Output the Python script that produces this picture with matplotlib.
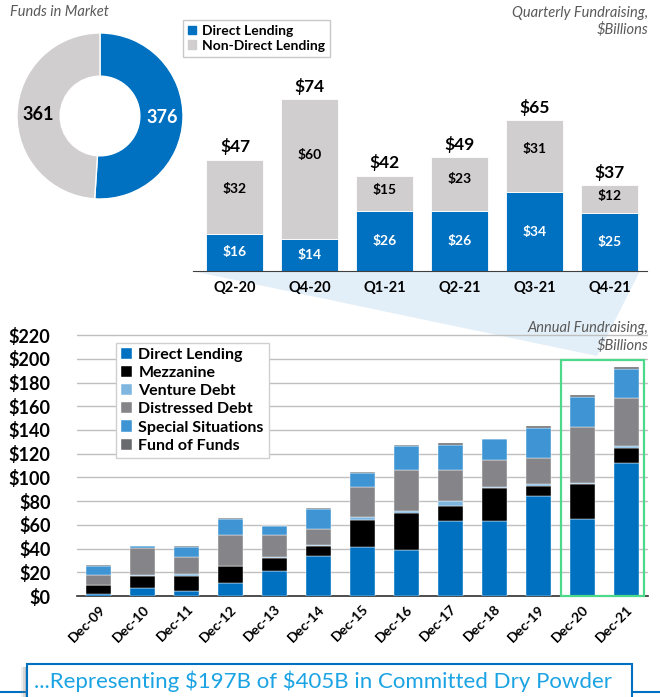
import numpy as np
import matplotlib.pyplot as plt
from matplotlib.patches import Patch, Rectangle, Polygon

# ---------- data ----------
donut_labels = ["Direct Lending", "Non-Direct Lending"]
donut_values = [376, 361]

quarters = ["Q2-20", "Q4-20", "Q1-21", "Q2-21", "Q3-21", "Q4-21"]
q_direct = [16, 14, 26, 26, 34, 25]
q_non_direct = [32, 60, 15, 23, 31, 12]
q_totals = [47, 74, 42, 49, 65, 37]

years = ["Dec-09", "Dec-10", "Dec-11", "Dec-12", "Dec-13", "Dec-14", "Dec-15",
         "Dec-16", "Dec-17", "Dec-18", "Dec-19", "Dec-20", "Dec-21"]
direct_lending = [2, 6.7, 4, 11, 21, 33.4, 41.6, 38.8, 63.2, 62.9, 84, 65.2, 112.4]
mezzanine = [7, 10.4, 12.7, 14, 11, 8.7, 22.2, 31.4, 12.9, 28.1, 8.4, 28.9, 12.6]
venture_debt = [0.5, 0.6, 1.7, 0.6, 0.9, 0.6, 2.8, 1.4, 3.7, 0.9, 2.3, 1.1, 1.4]
distressed = [8, 23, 14.8, 25.5, 18.2, 13.8, 25.5, 34.3, 26.7, 22.4, 21.6, 46.9, 40.7]
special_sit = [8, 1.2, 8.2, 13.8, 7.6, 17.1, 11.6, 20.2, 21, 17.7, 25, 25.9, 23.9]
fund_of_funds = [0.5, 0.3, 0.6, 0.5, 0.6, 0.8, 0.8, 1.4, 1.7, 0.6, 1.7, 1.1, 2.5]

# ---------- style ----------
BLUE = "#0070C0"
LGRAY = "#D0CECE"
FONT = ["Lato", "DejaVu Sans"]
plt.rcParams['font.family'] = FONT

W, H = 660, 697
fig = plt.figure(figsize=(W / 100, H / 100), dpi=100)


def fx(px):
    return px / W


def fy(py):
    return 1 - py / H


# ---------- donut ----------
ax_d = fig.add_axes([fx(17), fy(199), fx(166), 166 / H])
wedges, _ = ax_d.pie(donut_values, colors=[BLUE, LGRAY], startangle=90,
                     counterclock=False, radius=1.0,
                     wedgeprops=dict(width=0.52, edgecolor="white", linewidth=1))
ax_d.set_xlim(-1, 1)
ax_d.set_ylim(-1, 1)
for w, v, c in zip(wedges, donut_values, ["white", "black"]):
    ang = np.deg2rad((w.theta1 + w.theta2) / 2)
    ax_d.text(0.75 * np.cos(ang), 0.75 * np.sin(ang), str(v), ha="center",
              va="center", color=c, fontsize=13, fontweight="bold")

fig.text(fx(10), fy(12), "Funds in Market", style="italic", color="#595959",
         fontsize=10.5, ha="left", va="center")
fig.text(fx(648), fy(13), "Quarterly Fundraising,", style="italic",
         color="#595959", fontsize=10.5, ha="right", va="center")
fig.text(fx(648), fy(30), "$Billions", style="italic", color="#595959",
         fontsize=10.5, ha="right", va="center")

# ---------- quarterly bars ----------
ax_q = fig.add_axes([fx(193), fy(271), fx(454), 80 * 2.32 / H])
xq = np.arange(len(quarters))
ax_q.bar(xq, q_direct, width=0.76, color=BLUE, edgecolor="white", linewidth=0.6)
ax_q.bar(xq, q_non_direct, width=0.76, bottom=q_direct, color=LGRAY,
         edgecolor="white", linewidth=0.6)
for i in range(len(quarters)):
    ax_q.text(i, q_direct[i] / 2, f"${q_direct[i]}", ha="center", va="center",
              color="white", fontsize=10, fontweight="bold")
    ax_q.text(i, q_direct[i] + q_non_direct[i] * 0.6, f"${q_non_direct[i]}",
              ha="center", va="center", color="black", fontsize=10,
              fontweight="bold")
    ax_q.text(i, q_direct[i] + q_non_direct[i] + 2, f"${q_totals[i]}",
              ha="center", va="bottom", color="black", fontsize=12.5,
              fontweight="bold")
ax_q.set_xlim(-0.56, 5.5)
ax_q.set_ylim(0, 80)
ax_q.set_xticks(xq)
ax_q.set_xticklabels(quarters, fontsize=10.5, fontweight="bold")
ax_q.tick_params(axis="x", length=0, pad=7)
ax_q.set_yticks([])
for s in ["top", "right", "left"]:
    ax_q.spines[s].set_visible(False)
ax_q.spines["bottom"].set_color("#404040")
ax_q.patch.set_alpha(0)
ax_q.legend(handles=[Patch(color=BLUE, label="Direct Lending"),
                     Patch(color=LGRAY, label="Non-Direct Lending")],
            loc="upper left", bbox_to_anchor=(fx(183), fy(20)),
            bbox_transform=fig.transFigure, borderaxespad=0,
            prop=dict(weight="bold", size=10), handlelength=0.6,
            handleheight=0.6, handletextpad=0.4, labelspacing=0.2,
            borderpad=0.35, fancybox=False, framealpha=1, edgecolor="#C8C8C8")

# ---------- connector triangle ----------
tri = Polygon([(fx(192), fy(271)), (fx(640), fy(271)), (fx(597), fy(356))],
              closed=True, transform=fig.transFigure, facecolor="#DDEBF7",
              edgecolor="none", alpha=0.8, zorder=-1)
fig.patches.append(tri)

# ---------- annual bars ----------
ax_a = fig.add_axes([fx(77), fy(596), fx(571), 221 * 1.186 / H])
xa = np.arange(len(years))
series = [
    ("Direct Lending", direct_lending, BLUE),
    ("Mezzanine", mezzanine, "#000000"),
    ("Venture Debt", venture_debt, "#7FB6E0"),
    ("Distressed Debt", distressed, "#858589"),
    ("Special Situations", special_sit, "#3F95D3"),
    ("Fund of Funds", fund_of_funds, "#6A6B6E"),
]
bottom = np.zeros(len(years))
for name, vals, col in series:
    ax_a.bar(xa, vals, width=0.57, bottom=bottom, color=col, label=name,
             edgecolor="white", linewidth=0.3, zorder=3)
    bottom += np.array(vals)

ax_a.set_xlim(-0.5, 12.5)
ax_a.set_ylim(0, 221)
ax_a.set_yticks(np.arange(0, 221, 20))
ax_a.set_yticklabels([f"${v}" for v in range(0, 221, 20)], fontsize=13,
                     fontweight="bold")
ax_a.yaxis.grid(True, color="#BFBFBF", linewidth=1, zorder=0)
ax_a.tick_params(axis="y", length=0, pad=19)
ax_a.set_xticks(xa)
ax_a.set_xticklabels(years, rotation=45, ha="right", rotation_mode="anchor",
                     fontsize=10, fontweight="bold")
ax_a.tick_params(axis="x", length=0, pad=5)
for s in ["top", "right", "left"]:
    ax_a.spines[s].set_visible(False)
ax_a.spines["bottom"].set_color("#303030")
ax_a.spines["bottom"].set_linewidth(1.2)
ax_a.patch.set_alpha(0)
ax_a.add_patch(Rectangle((10.52, 0), 1.9, 199, fill=False,
                         edgecolor="#4CD98A", linewidth=1.6, zorder=4,
                         clip_on=False))
leg = ax_a.legend(loc="upper left", bbox_to_anchor=(fx(116), fy(343)),
                  bbox_transform=fig.transFigure, borderaxespad=0,
                  prop=dict(weight="bold", size=11.5), handlelength=0.7,
                  handleheight=0.7, handletextpad=0.4, labelspacing=0.25,
                  borderpad=0.3, fancybox=False, framealpha=1,
                  edgecolor="#D0D0D0")
leg.set_zorder(5)

fig.text(fx(648), fy(328), "Annual Fundraising,", style="italic",
         color="#595959", fontsize=10.5, ha="right", va="center")
fig.text(fx(648), fy(346), "$Billions", style="italic", color="#595959",
         fontsize=10.5, ha="right", va="center")

# ---------- banner ----------
fig.add_artist(plt.Line2D([0, 1], [fy(692), fy(692)], color=BLUE,
                          linewidth=1.5, transform=fig.transFigure, zorder=1))
for k, a in enumerate([0.12, 0.2, 0.3]):
    fig.patches.append(Rectangle((fx(21 + 2 * k), -0.01), fx(8), fy(667) + 0.01,
                                 transform=fig.transFigure, facecolor="#808080",
                                 alpha=a, edgecolor="none", zorder=2))
fig.patches.append(Rectangle((fx(27), -0.01), fx(605), fy(664) + 0.01,
                             transform=fig.transFigure, facecolor="white",
                             edgecolor=BLUE, linewidth=1.5, zorder=3))
fig.text(fx(323), fy(681),
         r"...Representing \$197B of \$405B in Committed Dry Powder",
         color="#1BA3E3", fontsize=16, ha="center", va="center", zorder=4)

fig.savefig("out.png", dpi=100)
